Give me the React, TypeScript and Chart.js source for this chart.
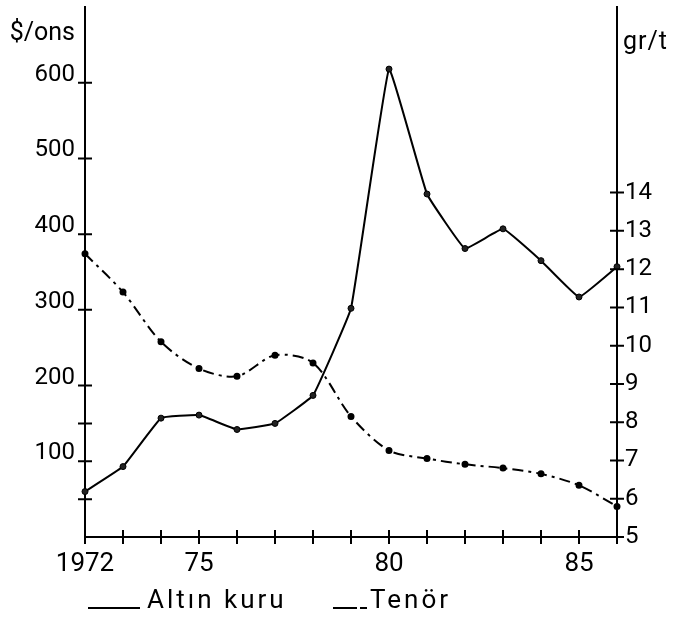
import React, { useEffect, useRef } from 'react';
import { Chart, registerables } from 'chart.js';

Chart.register(...registerables);

const years = ['1972', '1973', '1974', '1975', '1976', '1977', '1978', '1979', '1980', '1981', '1982', '1983', '1984', '1985', '1986'];
const yearTickLabels = ['1972', '', '', '75', '', '', '', '', '80', '', '', '', '', '85', ''];
const goldPrice = [60, 93, 157, 161, 142, 150, 187, 302, 618, 453, 381, 407, 365, 317, 357];
const tenor = [12.4, 11.4, 10.1, 9.4, 9.2, 9.75, 9.55, 8.15, 7.26, 7.05, 6.9, 6.8, 6.65, 6.35, 5.8];
const leftTickValues = [50, 100, 150, 200, 300, 400, 500, 600];
const leftLabelledValues = [100, 200, 300, 400, 500, 600];
const rightTickValues = [5, 6, 7, 8, 9, 10, 11, 12, 13, 14];
const leftAxisTitle = '$/ons';
const rightAxisTitle = 'gr/t';
const goldLabel = 'Altın kuru';
const tenorLabel = 'Tenör';

const FONT = 'Roboto, "DejaVu Sans", sans-serif';
const TICK = 7;

const crossTicksPlugin = {
  id: 'crossTicks',
  afterDatasetsDraw(chart: any) {
    const { ctx, chartArea, scales } = chart;
    ctx.save();
    ctx.strokeStyle = '#000';
    ctx.lineWidth = 2;
    ctx.setLineDash([]);
    ctx.beginPath();
    const x = scales.x;
    for (let i = 0; i < x.ticks.length; i++) {
      const px = x.getPixelForTick(i);
      ctx.moveTo(px, chartArea.bottom + TICK);
      ctx.lineTo(px, chartArea.bottom - TICK);
    }
    const yl = scales.yLeft;
    for (let i = 0; i < yl.ticks.length; i++) {
      const py = yl.getPixelForTick(i);
      ctx.moveTo(chartArea.left - TICK, py);
      ctx.lineTo(chartArea.left + TICK, py);
    }
    const yr = scales.yRight;
    for (let i = 0; i < yr.ticks.length; i++) {
      const py = yr.getPixelForTick(i);
      ctx.moveTo(chartArea.right - TICK, py);
      ctx.lineTo(chartArea.right + TICK, py);
    }
    ctx.stroke();
    ctx.restore();
  },
};

const annotationsPlugin = {
  id: 'annotations',
  afterDraw(chart: any) {
    const { ctx, chartArea } = chart;
    ctx.save();
    ctx.fillStyle = '#000';
    ctx.textBaseline = 'alphabetic';
    ctx.font = `25px ${FONT}`;
    ctx.textAlign = 'right';
    ctx.fillText(leftAxisTitle, chartArea.left - 10, chartArea.top + 33);
    ctx.textAlign = 'left';
    (ctx as any).letterSpacing = '1px';
    ctx.fillText(rightAxisTitle, chartArea.right + 6, chartArea.top + 42);

    // legend
    const ds = chart.data.datasets;
    const baseY = chart.height - 10;
    ctx.font = `26px ${FONT}`;
    (ctx as any).letterSpacing = '3px';
    ctx.lineWidth = 2;
    ctx.strokeStyle = '#000';
    ctx.beginPath();
    ctx.setLineDash([]);
    ctx.moveTo(chartArea.left + 3, baseY);
    ctx.lineTo(chartArea.left + 55, baseY);
    ctx.stroke();
    ctx.fillText(ds[0].label, chartArea.left + 62, baseY);
    ctx.beginPath();
    ctx.setLineDash([24, 3, 8, 3]);
    ctx.moveTo(chartArea.left + 248, baseY);
    ctx.lineTo(chartArea.left + 282, baseY);
    ctx.stroke();
    ctx.setLineDash([]);
    ctx.fillText(ds[1].label, chartArea.left + 285, baseY);
    ctx.restore();
  },
};

const noGrid = { drawOnChartArea: false, tickLength: TICK, color: 'rgba(0,0,0,0)', lineWidth: 2 };

export default function App() {
  const canvasRef = useRef<HTMLCanvasElement | null>(null);

  useEffect(() => {
    if (!canvasRef.current) return;
    const chart = new Chart(canvasRef.current, {
      type: 'line',
      data: {
        labels: years,
        datasets: [
          {
            label: goldLabel,
            data: goldPrice,
            yAxisID: 'yLeft',
            borderColor: '#000',
            backgroundColor: '#000',
            borderWidth: 2,
            pointRadius: 3,
            pointBorderWidth: 1,
            pointBackgroundColor: '#222',
            pointBorderColor: '#000',
            tension: 0.08,
            clip: false as any,
          },
          {
            label: tenorLabel,
            data: tenor,
            yAxisID: 'yRight',
            borderColor: '#000',
            backgroundColor: '#000',
            borderWidth: 2,
            borderDash: [11, 5, 3, 5],
            pointRadius: 2.5,
            pointBackgroundColor: '#000',
            pointBorderColor: '#000',
            tension: 0.3,
            clip: false as any,
          },
        ],
      },
      options: {
        animation: false,
        responsive: false,
        maintainAspectRatio: false,
        layout: { padding: { top: 7, left: 0, right: 0, bottom: 0 } },
        plugins: {
          legend: { display: false },
          tooltip: { enabled: false },
        },
        scales: {
          x: {
            type: 'category',
            offset: false,
            grid: noGrid,
            border: { color: '#000', width: 2 },
            ticks: {
              autoSkip: false,
              maxRotation: 0,
              padding: 5,
              color: '#000',
              font: { family: FONT, size: 26 },
              callback: (_v: any, i: number) => yearTickLabels[i],
            },
            afterFit: (s: any) => { s.height = 81; },
          },
          yLeft: {
            type: 'linear',
            position: 'left',
            min: 0,
            max: 700,
            grid: noGrid,
            border: { color: '#000', width: 2 },
            afterBuildTicks: (s: any) => { s.ticks = leftTickValues.map((v) => ({ value: v })); },
            ticks: {
              padding: 3,
              labelOffset: -8,
              color: '#000',
              font: { family: FONT, size: 24 },
              callback: (v: any) => (leftLabelledValues.includes(Number(v)) ? String(v) : ''),
            },
            afterFit: (s: any) => { s.width = 85; s.paddingTop = 0; s.paddingBottom = 0; },
          },
          yRight: {
            type: 'linear',
            position: 'right',
            min: 5,
            max: 18.85,
            grid: noGrid,
            border: { color: '#000', width: 2 },
            afterBuildTicks: (s: any) => { s.ticks = rightTickValues.map((v) => ({ value: v })); },
            ticks: {
              padding: 1,
              color: '#000',
              font: { family: FONT, size: 24 },
              callback: (v: any) => String(v),
            },
            afterFit: (s: any) => { s.width = 59; s.paddingTop = 0; s.paddingBottom = 0; },
          },
        },
      },
      plugins: [crossTicksPlugin, annotationsPlugin],
    });
    return () => chart.destroy();
  }, []);

  return (
    <div style={{ position: 'fixed', left: 0, top: 0, width: 676, height: 618, background: '#fff' }}>
      <canvas ref={canvasRef} width={676} height={618} style={{ width: 676, height: 618, display: 'block' }} />
    </div>
  );
}
